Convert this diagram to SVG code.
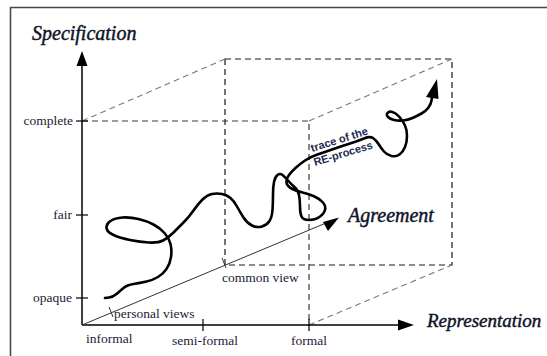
<svg xmlns="http://www.w3.org/2000/svg" width="547" height="356" viewBox="0 0 547 356">
  <style>
    .frame { stroke: #4a4a4a; stroke-width: 1.6; fill: none; }
    .axis { stroke: #000; stroke-width: 1.5; fill: none; }
    .tick { stroke: #000; stroke-width: 1.2; fill: none; }
    .back { stroke: #1a1a1a; stroke-width: 1.2; stroke-dasharray: 6 4; fill: none; }
    .front { stroke: #3a3a3a; stroke-width: 1.2; stroke-dasharray: 6 4; fill: none; }
    .diag { stroke: #7a7a7a; stroke-width: 1.1; stroke-dasharray: 6 4; fill: none; }
    .agree { stroke: #333; stroke-width: 1; fill: none; }
    .trace { stroke: #000; stroke-width: 2.6; fill: none; stroke-linecap: round; stroke-linejoin: round; }
    .lbl { font-family: "Liberation Serif", "Times New Roman", serif; font-size: 13.5px; fill: #1c2036; }
    .title { font-family: "Liberation Serif", "Times New Roman", serif; font-style: italic; font-size: 20px; fill: #10142a; stroke: #10142a; stroke-width: 0.45; }
    .note { font-family: "Liberation Sans", Arial, sans-serif; font-weight: bold; font-size: 11px; fill: #1e2a50; }
  </style>

  <!-- frame edges -->
  <g id="frame">
    <line class="frame" x1="10" y1="7.5" x2="547" y2="7.5"/>
    <line class="frame" x1="10.5" y1="7" x2="10.5" y2="356"/>
  </g>

  <!-- dashed cube -->
  <g id="cube">
    <rect class="back" x="225" y="59" width="227" height="206"/>
    <polyline class="front" points="82,121 309,121 309,325"/>
    <line class="diag" x1="82" y1="121" x2="225" y2="59"/>
    <line class="diag" x1="309" y1="121" x2="452" y2="59"/>
    <line class="diag" x1="309" y1="325" x2="452" y2="265"/>
  </g>

  <!-- axes and connectors -->
  <g id="connectors">
    <line class="axis" x1="82" y1="325" x2="82" y2="64"/>
    <polygon points="82,51 76.5,66 87.5,66" fill="#000"/>
    <line class="axis" x1="82" y1="325" x2="400" y2="325"/>
    <polygon points="414,325 398,319.5 398,330.5" fill="#000"/>
    <line class="agree" x1="82" y1="325" x2="326" y2="223"/>
    <polygon points="339,217.5 323,222 328,231" fill="#000"/>
    <!-- ticks -->
    <line class="tick" x1="76" y1="121" x2="88" y2="121"/>
    <line class="tick" x1="76" y1="215" x2="88" y2="215"/>
    <line class="tick" x1="76" y1="298" x2="88" y2="298"/>
    <line class="tick" x1="203" y1="319" x2="203" y2="331"/>
    <line class="tick" x1="309" y1="319" x2="309" y2="331"/>
    <line class="agree" x1="109" y1="307" x2="113" y2="317"/>
    <line class="agree" x1="222" y1="258" x2="226" y2="268"/>
  </g>

  <!-- trace of the RE process -->
  <g id="trace">
    <path class="trace" d="M105,298 L109,297.5 Q113,297 116.5,294 Q120,291 123.5,288 Q127,285 133.5,284 Q140,283 146.5,281.5 Q153,280 158,277 Q163,274 166.5,269 Q170,264 171,257 Q172,250 170.5,244 Q169,238 164.5,233 Q160,228 153.5,224.5 Q147,221 138.5,219 Q130,217 122.5,217.5 Q115,218 110.5,221 Q106,224 106.5,228 Q107,232 113.5,235 Q120,238 130,240 Q140,242 149,242.5 Q158,243 163,240.5 Q168,238 173,233 Q178,228 183.5,222.5 Q189,217 193.5,210.5 Q198,204 202.5,199.5 Q207,195 212,194 Q217,193 222,194 Q227,195 230.5,198 Q234,201 237,206.5 Q240,212 243.5,217.5 Q247,223 252,225.5 Q257,228 262,226.5 Q267,225 269.5,221 Q272,217 272.5,210 Q273,203 273,195 Q273,187 274,182 Q275,177 277.5,175 Q280,173 282.5,175 Q285,177 288,180.5 Q291,184 294.5,187 Q298,190 299,195 Q300,200 300,206.5 Q300,213 301.5,216.5 Q303,220 309,220 Q315,220 319.5,217 Q324,214 325,210 Q326,206 323,202.5 Q320,199 314.5,196.5 Q309,194 302.5,192.5 Q296,191 291.5,188.5 Q287,186 286.5,182.5 Q286,179 289,175 Q292,171 296,167.5 Q300,164 305,160.5 Q310,157 317.5,154.5 Q325,152 333.5,149 Q342,146 350,143.5 Q358,141 364,138.5 Q370,136 373,138 Q376,140 378.5,144 Q381,148 384,151.5 Q387,155 391.5,156 Q396,157 399.5,154.5 Q403,152 405,147 Q407,142 407,136 Q407,130 405,125.5 Q403,121 399.5,117 Q396,113 392.5,112 Q389,111 387.5,113 Q386,115 388,117 Q390,119 394,120 Q398,121 403,120.5 Q408,120 412.5,118 Q417,116 421.5,113.5 Q426,111 428.5,107.5 Q431,104 431.5,100.5 L432,97"/>
    <polygon points="437,79 426,97 438.5,99" fill="#000"/>
    <text class="note" transform="translate(312,152) rotate(-17.5)">trace of the</text>
    <text class="note" transform="translate(315,166) rotate(-17)">RE-process</text>
  </g>

  <!-- axis titles -->
  <g id="titles">
    <text class="title" x="32" y="40">Specification</text>
    <text class="title" x="427" y="327" style="font-size:19px">Representation</text>
    <text class="title" x="348" y="222">Agreement</text>
  </g>

  <!-- scale labels -->
  <g id="labels">
    <text class="lbl" x="73" y="124.5" text-anchor="end">complete</text>
    <text class="lbl" x="72" y="219" text-anchor="end">fair</text>
    <text class="lbl" x="72" y="302" text-anchor="end">opaque</text>
    <text class="lbl" x="86" y="343">informal</text>
    <text class="lbl" x="172" y="345">semi-formal</text>
    <text class="lbl" x="291" y="345">formal</text>
    <text class="lbl" x="114" y="318">personal views</text>
    <text class="lbl" x="222" y="282">common view</text>
  </g>
</svg>
